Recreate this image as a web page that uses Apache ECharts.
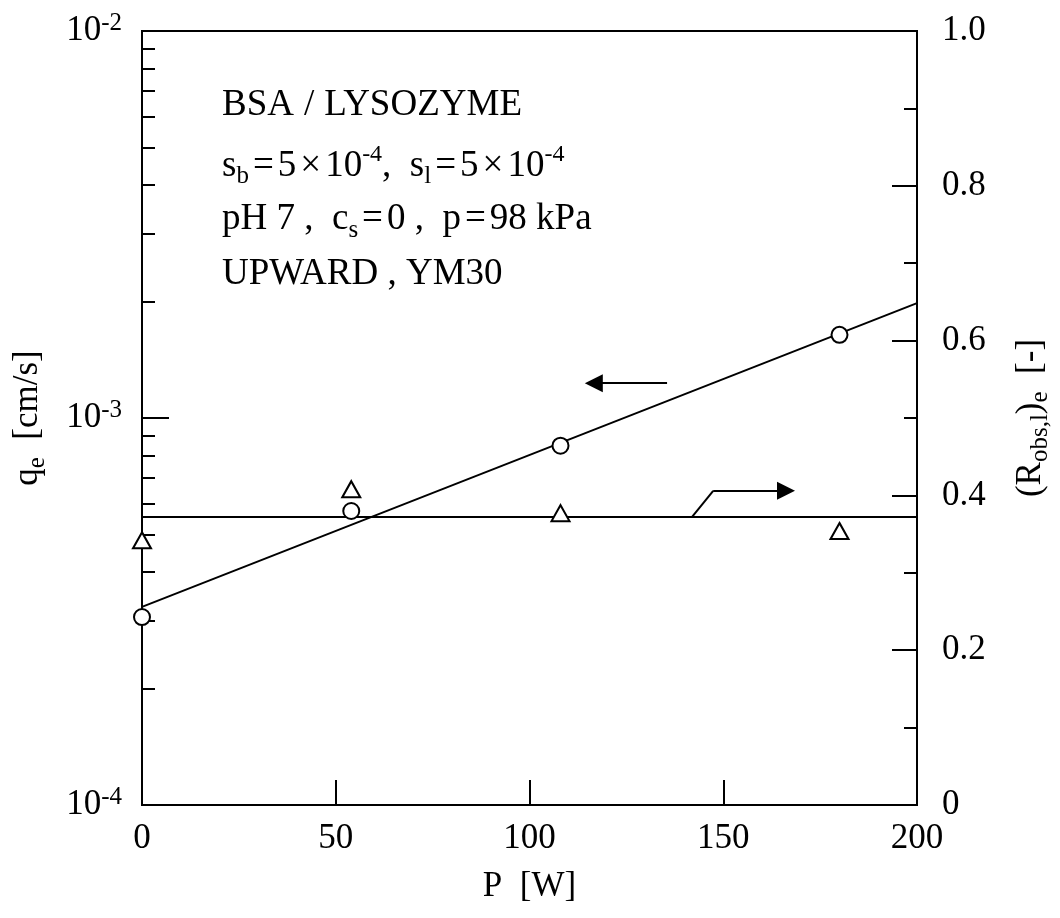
<!DOCTYPE html>
<html>
<head>
<meta charset="utf-8">
<script src="https://cdn.jsdelivr.net/npm/echarts@6/dist/echarts.min.js"></script>
<style>
  html, body { margin: 0; padding: 0; background: #fff; }
  #chart { width: 1060px; height: 918px; }
</style>
</head>
<body>
<div id="chart"></div>
<script>
// ---- data -------------------------------------------------------------
// microwave power P [W]
const powerW = [0, 54, 108, 180];
// equilibrium permeate flux q_e [cm/s] (left, log axis)
const fluxQe = [3.06e-4, 5.75e-4, 8.48e-4, 1.64e-3];
// observed rejection of lysozyme (R_obs,l)_e [-] (right axis)
const rejectionR = [0.342, 0.408, 0.377, 0.354];

// fitted lines (end points)
const fitP = [0, 200];
const fitQe = [3.25e-4, 1.98e-3];
const fitR = [0.372, 0.372];

// axis ticks
const xTicks = [0, 50, 100, 150, 200];
const qDecades = [1e-4, 1e-3, 1e-2];
const qMinorTicks = [2e-4, 3e-4, 4e-4, 5e-4, 6e-4, 7e-4, 8e-4, 9e-4,
                     2e-3, 3e-3, 4e-3, 5e-3, 6e-3, 7e-3, 8e-3, 9e-3];
const rTicks = [0, 0.2, 0.4, 0.6, 0.8, 1.0];

// pointer arrows (data coordinates): which axis each curve belongs to
const leftArrow = { from: [135.5, 1.23e-3], to: [116.6, 1.23e-3] };
const rightArrow = { start: [141.9, 0.372], bend: [147.4, 0.406], to: [166.2, 0.406] };

// ---- styling helpers --------------------------------------------------
const FONT = '"Liberation Serif", "Times New Roman", serif';
const INK = '#000';

const chart = echarts.init(document.getElementById('chart'), null, { renderer: 'canvas' });

const nameRich = {
  t: { fontFamily: FONT, fontSize: 35, color: INK, lineHeight: 44, verticalAlign: 'middle' },
  sub: { fontFamily: FONT, fontSize: 25, color: INK, lineHeight: 20, verticalAlign: 'bottom' }
};

const noteRich = {
  t: { fontFamily: FONT, fontSize: 37, color: INK, lineHeight: 46, verticalAlign: 'middle' },
  op: { fontFamily: FONT, fontSize: 37, color: INK, lineHeight: 46, verticalAlign: 'middle', padding: [0, 4, 0, 4] },
  sl: { fontFamily: FONT, fontSize: 37, color: INK, lineHeight: 46, verticalAlign: 'middle', padding: [0, 10, 0, 10] },
  sub: { fontFamily: FONT, fontSize: 25, color: INK, lineHeight: 20, verticalAlign: 'bottom' },
  sup: { fontFamily: FONT, fontSize: 24, color: INK, lineHeight: 24, verticalAlign: 'top' }
};

const noteLines = [
  '{t|BSA}{sl|/}{t|LYSOZYME}',
  '{t|s}{sub|b}{op|=}{t|5}{op|×}{t|10}{sup|-4}{t|,  s}{sub|l}{op|=}{t|5}{op|×}{t|10}{sup|-4}',
  '{t|pH 7 ,  c}{sub|s}{op|=}{t|0 ,  p}{op|=}{t|98 kPa}',
  '{t|UPWARD , YM30}'
];
const noteCenters = [110, 166, 224, 279];

const option = {
  backgroundColor: '#fff',
  animation: false,
  grid: {
    left: 142, right: 143, top: 31, bottom: 113,
    show: true, borderColor: INK, borderWidth: 2,
    containLabel: false, outerBoundsMode: 'none'
  },
  xAxis: {
    type: 'value',
    min: xTicks[0], max: xTicks[xTicks.length - 1], interval: 50,
    name: '{t|P  [W]}',
    nameLocation: 'middle', nameGap: 60,
    nameTextStyle: { rich: nameRich },
    axisLine: { show: true, lineStyle: { color: INK, width: 2 } },
    axisTick: { show: true, inside: true, length: 25, lineStyle: { color: INK, width: 2 } },
    axisLabel: { fontFamily: FONT, fontSize: 35, color: INK, margin: 16 },
    splitLine: { show: false }
  },
  yAxis: [
    {
      type: 'log', logBase: 10,
      min: qDecades[0], max: qDecades[qDecades.length - 1],
      position: 'left',
      name: '{t|q}{sub|e}{t|  [cm/s]}',
      nameLocation: 'middle', nameGap: 92, nameRotate: 90,
      nameTextStyle: { rich: nameRich },
      axisLine: { show: true, lineStyle: { color: INK, width: 2 } },
      axisTick: { show: true, inside: true, length: 27, lineStyle: { color: INK, width: 2 } },
      axisLabel: {
        margin: 20,
        formatter: function (v) {
          const e = Math.round(Math.log10(v));
          return '{b|10}{sup|' + e + '}';
        },
        rich: {
          b: { fontFamily: FONT, fontSize: 35, color: INK, lineHeight: 40, verticalAlign: 'middle' },
          sup: { fontFamily: FONT, fontSize: 25, color: INK, lineHeight: 20, verticalAlign: 'top' }
        }
      },
      splitLine: { show: false }
    },
    {
      // companion axis in decade space carrying the 2..9 minor ticks
      type: 'value', min: -4, max: -2, position: 'left',
      axisLine: { show: false },
      axisLabel: { show: false },
      axisTick: {
        show: true, inside: true, length: 13,
        customValues: qMinorTicks.map(v => Math.log10(v)),
        lineStyle: { color: INK, width: 2 }
      },
      splitLine: { show: false }
    },
    {
      type: 'value', min: rTicks[0], max: rTicks[rTicks.length - 1], interval: 0.2,
      position: 'right',
      name: '{t|(R}{sub|obs,l}{t|)}{sub|e}{t|  [-]}',
      nameLocation: 'middle', nameGap: 92, nameRotate: 90,
      nameTextStyle: { rich: nameRich },
      axisLine: { show: true, lineStyle: { color: INK, width: 2 } },
      axisTick: { show: true, inside: true, length: 25, lineStyle: { color: INK, width: 2 } },
      minorTick: { show: true, splitNumber: 2, length: 13, lineStyle: { color: INK, width: 2 } },
      axisLabel: {
        fontFamily: FONT, fontSize: 35, color: INK, margin: 25,
        formatter: v => (v === 0 ? '0' : v.toFixed(1))
      },
      splitLine: { show: false },
      minorSplitLine: { show: false }
    }
  ],
  series: [
    {
      name: 'qe fit', type: 'line', xAxisIndex: 0, yAxisIndex: 0,
      data: fitP.map((p, i) => [p, fitQe[i]]),
      showSymbol: false, silent: true,
      lineStyle: { color: INK, width: 2 },
      markLine: {
        silent: true, symbol: ['none', 'triangle'], symbolSize: [18, 18],
        label: { show: false },
        lineStyle: { color: INK, width: 2, type: 'solid' },
        itemStyle: { color: INK },
        data: [[{ coord: leftArrow.from }, { coord: leftArrow.to }]]
      },
      z: 2
    },
    {
      name: 'R fit', type: 'line', xAxisIndex: 0, yAxisIndex: 2,
      data: fitP.map((p, i) => [p, fitR[i]]),
      showSymbol: false, silent: true,
      lineStyle: { color: INK, width: 2 },
      markLine: {
        silent: true, symbol: ['none', 'none'], symbolSize: [18, 18],
        label: { show: false },
        lineStyle: { color: INK, width: 2, type: 'solid' },
        itemStyle: { color: INK },
        data: [
          [{ coord: rightArrow.start }, { coord: rightArrow.bend }],
          [{ coord: rightArrow.bend }, { coord: rightArrow.to, symbol: 'triangle', symbolSize: [18, 18] }]
        ]
      },
      z: 2
    },
    {
      name: 'qe', type: 'scatter', xAxisIndex: 0, yAxisIndex: 0,
      data: powerW.map((p, i) => [p, fluxQe[i]]),
      symbol: 'circle', symbolSize: 16, silent: true,
      itemStyle: { color: '#fff', borderColor: INK, borderWidth: 2, opacity: 1 },
      z: 5
    },
    {
      name: 'R', type: 'scatter', xAxisIndex: 0, yAxisIndex: 2,
      data: powerW.map((p, i) => [p, rejectionR[i]]),
      symbol: 'triangle', symbolSize: [18, 16], silent: true,
      itemStyle: { color: '#fff', borderColor: INK, borderWidth: 2, opacity: 1 },
      z: 5
    }
  ],
  graphic: noteLines.map((txt, i) => ({
    type: 'text', left: 222, top: noteCenters[i] - 23, silent: true,
    style: { text: txt, rich: noteRich, fill: INK, font: '37px ' + FONT }
  }))
};

chart.setOption(option);
</script>
</body>
</html>
